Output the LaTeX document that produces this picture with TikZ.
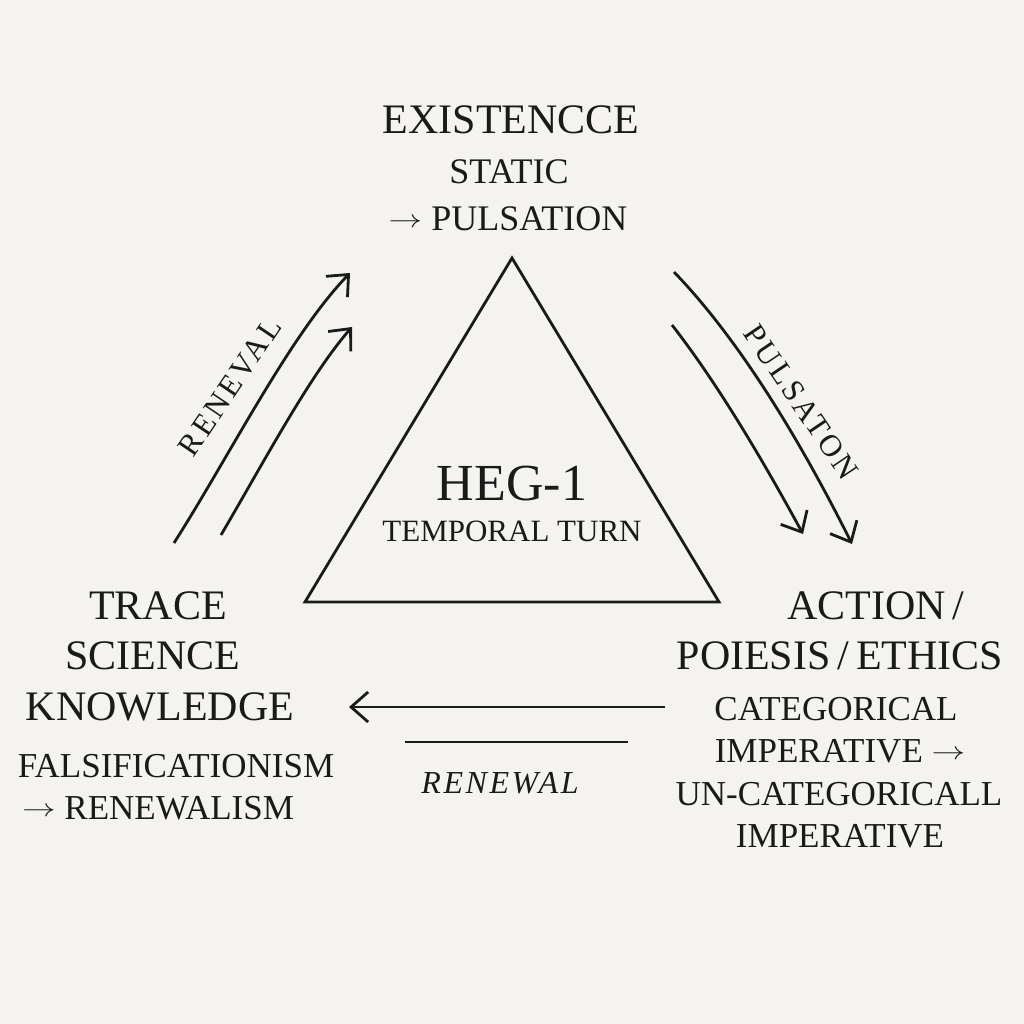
\documentclass[tikz,border=0pt]{standalone}
\usepackage{fontspec}
\setmainfont{Liberation Serif}
\newfontfamily\spaced[LetterSpace=8]{Liberation Serif}
\newfontfamily\wide[LetterSpace=10]{Liberation Serif}
\usetikzlibrary{arrows.meta}
\definecolor{bg}{HTML}{F4F3EF}
\definecolor{ink}{HTML}{1A1A1A}
\tikzset{
  lbl/.style={text=ink, inner sep=0pt, align=center},
  conn/.style={draw=ink, line width=2.8pt, -{Straight Barb[length=17pt, width=30pt, line width=2.8pt]}},
  plain/.style={draw=ink, line width=2.8pt},
}
\newcommand{\fs}[1]{\fontsize{#1}{#1}\selectfont}
\newcommand{\arr}{\raisebox{0.08em}{\scalebox{1.35}[1]{$\rightarrow$}}}
\begin{document}
\begin{tikzpicture}[x=1pt, y=-1pt]
\fill[bg] (0,0) rectangle (1024,1024);
\useasboundingbox (0,0) rectangle (1024,1024);

% triangle
\coordinate (A) at (512,258);
\coordinate (B) at (305,602);
\coordinate (C) at (719,602);
\draw[ink, line width=2.8pt, line join=miter] (A) -- (B) -- (C) -- cycle;

% top labels
\node[lbl] (ex) at (511,120) {\fs{42}EXISTENCCE};
\node[lbl] (st) at (509,172) {\fs{36}STATIC};
\node[lbl] (pu) at (508,219) {\fs{36}\arr\ PULSATION};

% center
\node[lbl] (heg) at (512,484) {\fs{52}HEG-1};
\node[lbl] (tt) at (512,531) {\fs{31}TEMPORAL TURN};

% left labels
\node[lbl] (tr) at (158,606) {\fs{42}TRACE};
\node[lbl] (sc) at (153,656) {\fs{42}SCIENCE};
\node[lbl] (kn) at (160,707) {\fs{42}KNOWLEDGE};
\node[lbl] (fa) at (176,766) {\fs{35}FALSIFICATIONISM};
\node[lbl] (re) at (158,808) {\fs{35}\arr\ RENEWALISM};

% right labels
\node[lbl] (ac) at (876,606) {\fs{42}ACTION\,/};
\node[lbl] (po) at (840,656) {\fs{42}POIESIS\,/\,ETHICS};
\node[lbl] (ca) at (836,709) {\fs{35}CATEGORICAL};
\node[lbl] (im) at (840,751) {\fs{35}IMPERATIVE \arr};
\node[lbl] (un) at (839,794) {\fs{35}UN-CATEGORICALL};
\node[lbl] (im2) at (840,836) {\fs{35}IMPERATIVE};

% left arrows (renewal)
\coordinate (l1s) at (174,543);
\coordinate (l1e) at (350,273);
\coordinate (l2s) at (221,535);
\coordinate (l2e) at (352,327);
\draw[conn] (l1s) .. controls (230,455) and (290,335) .. (l1e);
\draw[conn] (l2s) .. controls (265,460) and (310,375) .. (l2e);
\node[lbl, rotate=56] (rv) at (230,387) {\fs{31}\wide RENEVAL};

% right arrows (pulsation)
\coordinate (r1s) at (674,272);
\coordinate (r1e) at (852,544);
\coordinate (r2s) at (672,325);
\coordinate (r2e) at (803,534);
\draw[conn] (r1s) .. controls (730,330) and (790,420) .. (r1e);
\draw[conn] (r2s) .. controls (715,380) and (760,455) .. (r2e);
\node[lbl, rotate=-56] (ps) at (801,402) {\fs{31}\wide PULSATON};

% bottom arrow
\coordinate (bs) at (665,707);
\coordinate (be) at (349,707);
\draw[conn] (bs) -- (be);
\coordinate (ls) at (405,742);
\coordinate (le) at (628,742);
\draw[plain] (ls) -- (le);
\node[lbl] (rn) at (500,783) {\fs{32}\spaced\itshape RENEWAL};
\end{tikzpicture}
\end{document}
